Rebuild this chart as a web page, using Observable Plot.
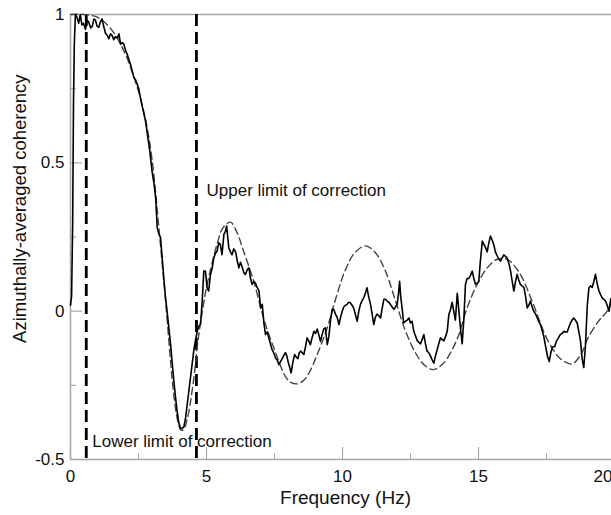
<!DOCTYPE html>
<html><head><meta charset="utf-8">
<script src="https://cdn.jsdelivr.net/npm/d3@7"></script>
<script src="https://cdn.jsdelivr.net/npm/@observablehq/plot@0.6"></script>
<style>body{margin:0;background:#fff;} svg{display:block;}</style>
</head><body><div id="chart"></div>
<script>
// Observed azimuthally-averaged coherency
const obsFreq = [0.00,0.04,0.08,0.11,0.14,0.18,0.24,0.30,0.36,0.42,0.48,0.55,0.61,0.67,0.74,0.80,0.86,0.92,0.98,1.04,1.10,1.16,1.22,1.29,1.35,1.41,1.47,1.53,1.59,1.65,1.72,1.78,1.84,1.90,1.96,2.02,2.08,2.14,2.20,2.27,2.33,2.39,2.45,2.51,2.57,2.66,2.76,2.82,2.88,2.94,3.00,3.07,3.13,3.19,3.25,3.31,3.37,3.43,3.49,3.55,3.62,3.68,3.74,3.80,3.86,3.92,3.98,4.04,4.10,4.17,4.23,4.29,4.35,4.41,4.47,4.53,4.59,4.66,4.72,4.78,4.84,4.90,4.96,5.02,5.08,5.14,5.21,5.27,5.33,5.39,5.45,5.51,5.57,5.64,5.70,5.74,5.78,5.82,5.88,5.94,6.00,6.07,6.13,6.19,6.25,6.31,6.37,6.43,6.50,6.56,6.62,6.68,6.74,6.80,6.86,6.93,6.99,7.05,7.11,7.17,7.23,7.29,7.35,7.41,7.47,7.54,7.60,7.66,7.72,7.78,7.84,7.90,7.95,8.00,8.06,8.11,8.18,8.24,8.30,8.36,8.41,8.46,8.52,8.58,8.64,8.70,8.76,8.82,8.88,8.95,9.01,9.07,9.13,9.19,9.25,9.31,9.37,9.44,9.50,9.56,9.62,9.68,9.74,9.80,9.87,9.93,9.99,10.05,10.11,10.17,10.23,10.29,10.35,10.41,10.47,10.54,10.60,10.66,10.72,10.78,10.84,10.90,10.96,11.03,11.09,11.15,11.21,11.27,11.33,11.40,11.46,11.52,11.58,11.64,11.70,11.76,11.82,11.89,11.95,12.01,12.06,12.10,12.14,12.19,12.25,12.32,12.38,12.44,12.50,12.56,12.62,12.69,12.75,12.81,12.87,12.93,12.99,13.05,13.11,13.17,13.23,13.30,13.36,13.42,13.48,13.54,13.60,13.66,13.73,13.79,13.85,13.91,13.97,14.03,14.09,14.15,14.22,14.28,14.34,14.40,14.46,14.52,14.58,14.64,14.70,14.77,14.83,14.89,14.95,15.01,15.07,15.14,15.20,15.26,15.32,15.38,15.44,15.50,15.56,15.62,15.69,15.75,15.81,15.87,15.93,15.99,16.05,16.12,16.18,16.24,16.30,16.36,16.42,16.48,16.54,16.60,16.67,16.73,16.79,16.85,16.91,16.97,17.03,17.10,17.16,17.22,17.28,17.34,17.40,17.47,17.53,17.60,17.66,17.72,17.80,17.87,17.94,18.00,18.07,18.14,18.20,18.26,18.32,18.38,18.44,18.50,18.56,18.63,18.69,18.75,18.81,18.87,18.93,19.00,19.06,19.12,19.18,19.24,19.30,19.37,19.43,19.49,19.55,19.61,19.67,19.73,19.80,19.86,19.92];
const obsCoh = [0.02,0.05,0.30,0.70,0.90,1.00,0.99,0.97,1.00,0.965,0.97,0.95,0.98,0.975,0.955,0.96,0.985,0.98,0.96,0.957,0.975,0.985,0.96,0.936,0.93,0.918,0.935,0.929,0.915,0.925,0.92,0.935,0.90,0.905,0.90,0.88,0.867,0.85,0.833,0.81,0.788,0.78,0.766,0.75,0.72,0.68,0.64,0.60,0.563,0.52,0.47,0.43,0.383,0.28,0.26,0.248,0.18,0.112,0.05,0.00,-0.06,-0.113,-0.175,-0.236,-0.29,-0.338,-0.375,-0.394,-0.395,-0.39,-0.36,-0.315,-0.27,-0.225,-0.18,-0.135,-0.10,-0.068,-0.05,-0.045,0.03,0.135,0.135,0.08,0.068,0.12,0.146,0.18,0.195,0.203,0.23,0.225,0.19,0.259,0.27,0.287,0.25,0.214,0.20,0.19,0.21,0.20,0.17,0.146,0.165,0.15,0.13,0.124,0.14,0.146,0.11,0.09,0.10,0.095,0.08,0.068,0.01,0.023,-0.04,-0.079,-0.07,-0.09,-0.11,-0.13,-0.14,-0.158,-0.165,-0.18,-0.17,-0.16,-0.15,-0.14,-0.15,-0.17,-0.19,-0.208,-0.17,-0.146,-0.155,-0.16,-0.14,-0.135,-0.14,-0.146,-0.12,-0.09,-0.10,-0.113,-0.09,-0.068,-0.075,-0.06,-0.08,-0.102,-0.08,-0.06,-0.056,-0.113,-0.085,-0.03,0.006,0.006,-0.01,-0.02,-0.045,-0.02,0.0,0.015,0.02,0.023,0.03,0.028,0.02,0.011,-0.01,-0.034,0.0,0.023,0.035,0.045,0.06,0.079,0.05,0.023,-0.01,-0.045,-0.02,-0.01,-0.015,-0.023,0.01,0.04,0.04,0.034,0.03,0.023,0.015,0.006,0.015,0.023,0.06,0.101,0.05,0.011,-0.04,-0.034,-0.03,-0.023,-0.04,-0.034,-0.068,-0.085,-0.10,-0.105,-0.11,-0.095,-0.079,-0.11,-0.135,-0.14,-0.15,-0.165,-0.175,-0.15,-0.13,-0.11,-0.09,-0.095,-0.10,-0.085,-0.068,-0.011,0.005,0.03,0.0,-0.03,0.06,0.0,-0.06,-0.11,-0.03,0.09,0.11,0.11,0.12,0.135,0.11,0.09,0.095,0.10,0.17,0.236,0.225,0.214,0.20,0.23,0.253,0.24,0.225,0.20,0.186,0.175,0.169,0.18,0.19,0.185,0.18,0.16,0.135,0.10,0.068,0.10,0.124,0.105,0.09,0.085,0.08,0.05,0.011,0.02,0.034,0.015,0.0,-0.01,-0.023,-0.035,-0.045,-0.065,-0.085,-0.12,-0.15,-0.17,-0.14,-0.12,-0.12,-0.10,-0.09,-0.08,-0.075,-0.068,-0.07,-0.07,-0.055,-0.04,-0.03,-0.023,-0.03,-0.04,-0.07,-0.10,-0.16,-0.19,-0.12,0.02,0.079,0.085,0.08,0.10,0.124,0.09,0.068,0.055,0.045,0.04,0.034,0.02,0.0,0.04,0.05];

// Theoretical (model) coherency
const modelFreq = [0,0.5,1.0,1.5,2.0,2.25,2.5,2.75,3.0,3.25,3.5,3.75,3.9,4.05,4.15,4.3,4.5,4.7,4.85,5.0,5.2,5.4,5.6,5.88,6.1,6.37,6.74,7.0,7.17,7.54,7.9,8.1,8.33,8.55,8.76,9.07,9.44,9.68,10.11,10.48,10.85,11.21,11.58,11.95,12.32,12.68,12.99,13.33,13.72,14.03,14.28,14.58,14.95,15.32,15.69,16.05,16.5,16.97,17.5,17.9,18.2,18.45,18.8,19.0,19.4,19.73,20];
const modelCoh = [1.0,1.0,0.99,0.95,0.87,0.81,0.74,0.65,0.51,0.28,0.03,-0.24,-0.35,-0.40,-0.40,-0.36,-0.25,-0.09,0.0,0.08,0.16,0.23,0.28,0.30,0.27,0.20,0.10,0.01,-0.045,-0.14,-0.22,-0.24,-0.245,-0.235,-0.21,-0.146,-0.056,0.02,0.14,0.20,0.22,0.197,0.135,0.034,-0.068,-0.14,-0.18,-0.197,-0.175,-0.13,-0.079,0.011,0.09,0.146,0.175,0.175,0.13,0.034,-0.09,-0.15,-0.172,-0.178,-0.14,-0.095,-0.035,0.0,0.05];

const limitFreqs = [0.58, 4.63];
const annotText = ["Upper limit of correction", "Lower limit of correction"];
const annotFreq = [5.0, 0.8];
const annotCoh = [0.407, -0.441];

const xTicks = [0, 5, 10, 15];
const xLastTick = [20];
const xMinor = [2.5, 7.5, 12.5, 17.5];
const yTicks = [-0.5, 0, 0.5, 1];
const yTickLabels = ["-0.5", "0", "0.5", "1"];
const yMinor = [-0.25, 0.25, 0.75];
const xLabel = "Frequency (Hz)";
const yLabel = "Azimuthally-averaged coherency";

const obs = obsFreq.map((f, i) => ({f, c: obsCoh[i]}));
const model = modelFreq.map((f, i) => ({f, c: modelCoh[i]}));
const annots = annotText.map((t, i) => ({t, f: annotFreq[i], c: annotCoh[i]}));

const gray = "#a8a8a8";
const font = "'Liberation Sans', Arial, sans-serif";

const chart = Plot.plot({
  width: 611,
  height: 515,
  marginLeft: 70,
  marginRight: -3,
  marginTop: 14,
  marginBottom: 56,
  style: {fontFamily: font, background: "#fff", overflow: "hidden"},
  x: {domain: [0, 20], axis: null},
  y: {domain: [-0.5, 1], axis: null},
  marks: [
    // frame lines
    Plot.ruleY([1], {stroke: gray, strokeWidth: 1.5}),
    Plot.ruleY([-0.5], {stroke: gray, strokeWidth: 1.5}),
    Plot.ruleX([0], {stroke: gray, strokeWidth: 1.5}),
    // inward ticks
    Plot.axisX([...xTicks, ...xLastTick], {anchor: "bottom", tickSize: 12, dy: -12, tickFormat: () => "", stroke: gray, strokeWidth: 1.2, label: null}),
    Plot.axisX(xMinor, {anchor: "bottom", tickSize: 6, dy: -6, tickFormat: () => "", stroke: gray, strokeWidth: 1.2, label: null}),
    Plot.axisY(yTicks, {anchor: "left", tickSize: 12, dx: 12, tickFormat: () => "", stroke: gray, strokeWidth: 1.2, label: null}),
    Plot.axisY(yMinor, {anchor: "left", tickSize: 6, dx: 6, tickFormat: () => "", stroke: gray, strokeWidth: 1.2, label: null}),
    // tick labels
    Plot.axisX(xTicks, {anchor: "bottom", tickSize: 0, tickPadding: 10, fontSize: 17, fill: "#111", label: null}),
    Plot.axisX(xLastTick, {anchor: "bottom", tickSize: 0, tickPadding: 10, fontSize: 17, fill: "#111", textAnchor: "end", dx: -2, label: null}),
    Plot.axisY(yTicks, {anchor: "left", tickSize: 0, tickPadding: 6, fontSize: 17, fill: "#111", tickFormat: d => yTickLabels[yTicks.indexOf(d)], label: null}),
    // axis titles
    Plot.text([xLabel], {text: d => d, frameAnchor: "bottom", dy: 44, dx: 3, fontSize: 19, fill: "#111"}),
    Plot.text([yLabel], {text: d => d, frameAnchor: "top-left", textAnchor: "end", rotate: -90, dx: -58, dy: 60, fontSize: 18.5, fill: "#111"}),
    // correction limits
    Plot.ruleX(limitFreqs, {stroke: "#000", strokeWidth: 2.8, strokeDasharray: "12,6"}),
    // model curve
    Plot.line(model, {x: "f", y: "c", stroke: "#444", strokeWidth: 1.4, strokeDasharray: "7,4", curve: "catmull-rom"}),
    // observed curve
    Plot.line(obs, {x: "f", y: "c", stroke: "#000", strokeWidth: 1.6}),
    // annotations
    Plot.text(annots, {x: "f", y: "c", text: "t", textAnchor: "start", fontSize: 17, fill: "#111"})
  ]
});
document.getElementById("chart").appendChild(chart);
</script>
</body></html>
